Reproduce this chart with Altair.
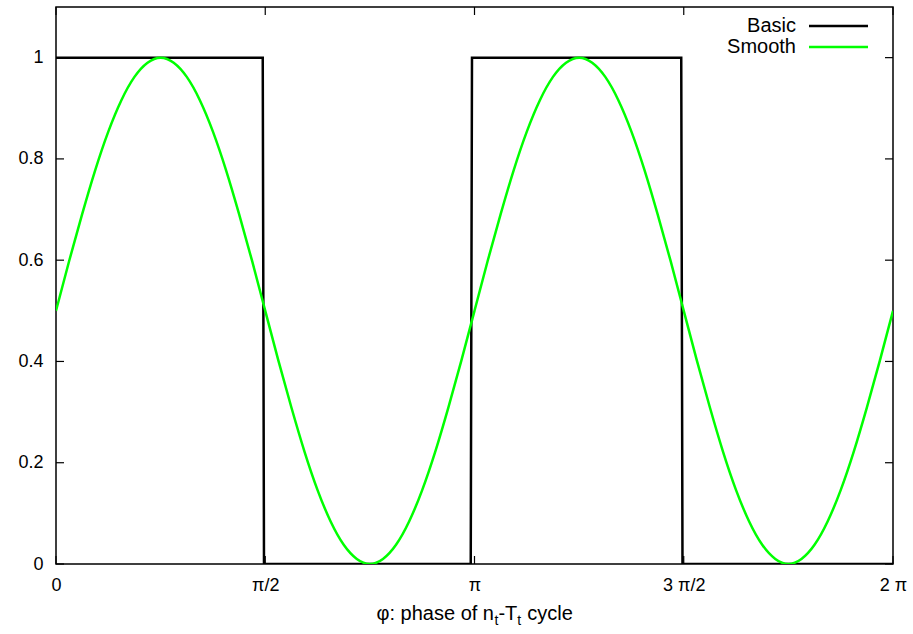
import math
import altair as alt
import pandas as pd

# Square-wave ("Basic") weighting over one n_t-T_t cycle, phase in units of pi
basic_phase_pi = [0.0, 0.494, 0.497, 0.991, 0.994, 1.494, 1.497, 2.0]
basic_value = [1, 1, 0, 0, 1, 1, 0, 0]

# Smooth weighting, sampled every pi/32 over the cycle
smooth_value = [
    0.500, 0.598, 0.691, 0.778, 0.854, 0.916, 0.962, 0.990,
    1.000, 0.990, 0.962, 0.916, 0.854, 0.778, 0.691, 0.598,
    0.500, 0.402, 0.309, 0.222, 0.146, 0.084, 0.038, 0.010,
    0.000, 0.010, 0.038, 0.084, 0.146, 0.222, 0.309, 0.402,
    0.500, 0.598, 0.691, 0.778, 0.854, 0.916, 0.962, 0.990,
    1.000, 0.990, 0.962, 0.916, 0.854, 0.778, 0.691, 0.598,
    0.500, 0.402, 0.309, 0.222, 0.146, 0.084, 0.038, 0.010,
    0.000, 0.010, 0.038, 0.084, 0.146, 0.222, 0.309, 0.402,
    0.500,
]
smooth_phase = [k * math.pi / 32 for k in range(len(smooth_value))]

x_ticks = [0, math.pi / 2, math.pi, 3 * math.pi / 2, 2 * math.pi]
x_tick_labels = ["0", "π/2", "π", "3 π/2", "2 π"]
y_ticks = [0, 0.2, 0.4, 0.6, 0.8, 1.0]

legend_labels = ["Basic", "Smooth"]
line_colors = ["#000000", "#00ff00"]

# x-axis title pieces: (text, is_subscript)
title_parts = [("φ: phase of n", False), ("t", True), ("-T", False), ("t", True), ("cycle", False)]

W, H = 837, 557
FONT = "Liberation Sans"
FS_TICK = 18
FS_TEXT = 20
FS_SUB = 14
TICK = 8

basic_df = pd.DataFrame({"phase": [p * math.pi for p in basic_phase_pi], "value": basic_value})
smooth_df = pd.DataFrame({"phase": smooth_phase, "value": smooth_value})
xt_df = pd.DataFrame({"phase": x_ticks})
yt_df = pd.DataFrame({"value": y_ticks})

label_expr = "[" + ",".join(f"'{s}'" for s in x_tick_labels) + "][round(datum.value*2/PI)]"

x_scale = alt.Scale(domain=[0, 2 * math.pi], nice=False, zero=False)
y_scale = alt.Scale(domain=[0, 1.1], nice=False)

x_axis = alt.Axis(
    values=x_ticks, labelExpr=label_expr, ticks=False, domain=False, grid=False,
    labelFont=FONT, labelFontSize=FS_TICK, labelColor="black", labelPadding=12,
    labelFlush=False, title=None,
)
y_axis = alt.Axis(
    values=y_ticks, format=".1~f", ticks=False, domain=False, grid=False,
    labelFont=FONT, labelFontSize=FS_TICK, labelColor="black", labelPadding=13,
    title=None,
)

basic = alt.Chart(basic_df).mark_line(color=line_colors[0], strokeWidth=2.5, clip=True).encode(
    x=alt.X("phase:Q", scale=x_scale, axis=x_axis),
    y=alt.Y("value:Q", scale=y_scale, axis=y_axis),
)
smooth = alt.Chart(smooth_df).mark_line(
    color=line_colors[1], strokeWidth=2.5, interpolate="natural", clip=True
).encode(
    x=alt.X("phase:Q", scale=x_scale),
    y=alt.Y("value:Q", scale=y_scale),
)

# Inward ticks on all four sides of the frame
tick_style = dict(color="black", strokeWidth=1.2)
x_bottom = alt.Chart(xt_df).mark_rule(**tick_style).encode(
    x=alt.X("phase:Q", scale=x_scale), y=alt.value(H), y2=alt.value(H - TICK))
x_top = alt.Chart(xt_df).mark_rule(**tick_style).encode(
    x=alt.X("phase:Q", scale=x_scale), y=alt.value(0), y2=alt.value(TICK))
y_left = alt.Chart(yt_df).mark_rule(**tick_style).encode(
    y=alt.Y("value:Q", scale=y_scale), x=alt.value(0), x2=alt.value(TICK))
y_right = alt.Chart(yt_df).mark_rule(**tick_style).encode(
    y=alt.Y("value:Q", scale=y_scale), x=alt.value(W - TICK), x2=alt.value(W))

# Key in the top-right corner: label, then line sample
key_layers = []
for i, (lab, col) in enumerate(zip(legend_labels, line_colors)):
    ky = 19 + 21 * i
    key_layers.append(
        alt.Chart(pd.DataFrame({"label": [lab]})).mark_text(
            align="right", baseline="middle", font=FONT, fontSize=FS_TEXT, color="black"
        ).encode(text="label:N", x=alt.value(740), y=alt.value(ky))
    )
    key_layers.append(
        alt.Chart(pd.DataFrame({"label": [lab]})).mark_rule(color=col, strokeWidth=2.5).encode(
            x=alt.value(753), x2=alt.value(812), y=alt.value(ky)
        )
    )

# x-axis title set piece by piece so the t's sit as subscripts.
# Liberation Sans advance widths (em): t=0.278, hyphen=0.333, T=0.611, space=0.278
anchor = 438.0
base_y = 613
sub_t_w = 0.278 * FS_SUB
dash_T_w = (0.333 + 0.611) * FS_TEXT
space_w = 0.278 * FS_TEXT
part_x = [anchor, anchor + 0.5, anchor + 0.5 + sub_t_w,
          anchor + 0.5 + sub_t_w + dash_T_w,
          anchor + 1.0 + 2 * sub_t_w + dash_T_w + space_w]
title_layers = []
for (txt, is_sub), px in zip(title_parts, part_x):
    title_layers.append(
        alt.Chart(pd.DataFrame({"t": [txt]})).mark_text(
            align="right" if px == anchor else "left",
            baseline="alphabetic", font=FONT,
            fontSize=FS_SUB if is_sub else FS_TEXT, color="black",
        ).encode(text="t:N", x=alt.value(px), y=alt.value(base_y + (5 if is_sub else 0)))
    )

chart = alt.layer(
    basic, smooth, x_bottom, x_top, y_left, y_right, *key_layers, *title_layers
).properties(
    width=W, height=H,
    autosize=alt.AutoSizeParams(type="none"),
    padding={"left": 56, "top": 7, "right": 20, "bottom": 70},
    background="white",
).configure_view(stroke="black", strokeWidth=1.5)

chart.save("out.html", embed_options={"renderer": "svg", "actions": False})
